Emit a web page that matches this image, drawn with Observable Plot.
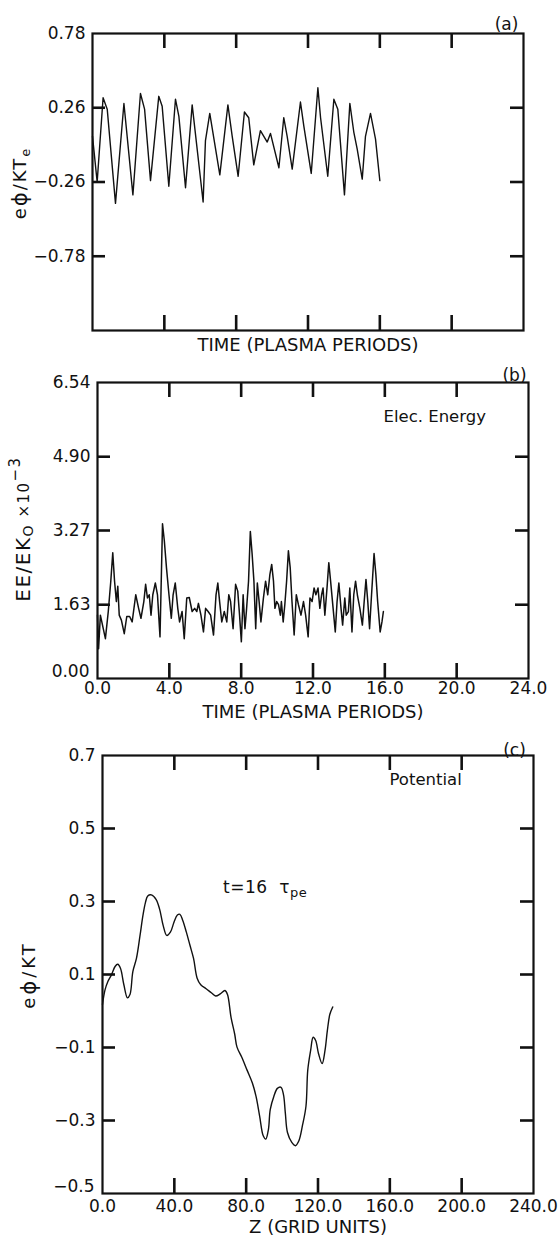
<!DOCTYPE html>
<html><head><meta charset="utf-8">
<script src="https://cdn.jsdelivr.net/npm/d3@7"></script>
<script src="https://cdn.jsdelivr.net/npm/@observablehq/plot@0.6"></script>
<style>
body{margin:0;background:#fff;}
#root{width:560px;height:1246px;overflow:hidden;background:#fff;}
#root svg{display:block;overflow:visible;}
</style></head><body><div id="root"></div>
<script>
// ---------- data ----------
const timeTicks = [0, 4, 8, 12, 16, 20, 24];
const timeTickLabels = ["0.0", "4.0", "8.0", "12.0", "16.0", "20.0", "24.0"];
const timeInnerTicks = [4, 8, 12, 16, 20];

// (a) potential vs time
const phiTicks = [0.78, 0.26, -0.26, -0.78];
const phiTickLabels = ["0.78", "0.26", "−0.26", "−0.78"];
const phiInnerTicks = [0.26, -0.26, -0.78];
const phiDomain = [-1.30, 0.78];
const phiT = [0.00,0.26,0.59,0.82,1.28,1.75,2.25,2.67,2.90,3.23,3.69,3.88,4.25,4.62,4.81,5.18,5.55,6.16,6.29,6.53,7.09,7.54,7.78,8.11,8.46,8.70,8.98,9.35,9.73,9.91,10.38,10.65,10.84,11.12,11.58,11.77,12.18,12.55,12.70,13.10,13.44,13.66,14.03,14.33,14.55,14.74,15.02,15.20,15.48,15.76,16.00];
const phiV = [0.06,-0.26,0.33,0.25,-0.41,0.29,-0.35,0.36,0.25,-0.25,0.34,0.27,-0.29,0.32,0.20,-0.30,0.28,-0.40,0.03,0.22,-0.21,0.28,0.06,-0.22,0.23,0.19,-0.14,0.10,0.02,0.08,-0.16,0.19,0.06,-0.17,0.30,0.13,-0.20,0.40,0.19,-0.22,0.32,0.25,-0.35,0.29,0.09,-0.03,-0.24,0.06,0.22,0.04,-0.25];

// (b) electric energy vs time
const eeTicks = [6.54, 4.90, 3.27, 1.63, 0];
const eeTickLabels = ["6.54", "4.90", "3.27", "1.63", "0.00"];
const eeInnerTicks = [1.63, 3.27, 4.90];
const eeDomain = [0, 6.54];
const eeT = [0.00,0.06,0.16,0.24,0.44,0.60,0.74,0.85,0.95,1.05,1.13,1.21,1.33,1.49,1.63,1.79,1.93,2.13,2.29,2.42,2.58,2.68,2.78,2.88,2.98,3.08,3.22,3.34,3.48,3.62,3.72,3.84,3.98,4.11,4.21,4.33,4.47,4.57,4.71,4.83,4.97,5.11,5.27,5.41,5.53,5.62,5.76,5.90,6.02,6.16,6.30,6.46,6.60,6.70,6.80,6.92,7.06,7.20,7.31,7.41,7.55,7.69,7.81,7.91,8.01,8.11,8.21,8.29,8.41,8.51,8.61,8.71,8.81,8.90,9.00,9.10,9.24,9.36,9.48,9.60,9.70,9.80,9.88,9.98,10.08,10.18,10.24,10.34,10.43,10.53,10.63,10.73,10.83,10.95,11.07,11.19,11.33,11.47,11.59,11.73,11.83,11.95,12.06,12.16,12.28,12.38,12.48,12.56,12.66,12.78,12.88,12.98,13.12,13.24,13.34,13.44,13.56,13.65,13.77,13.85,13.97,14.05,14.17,14.27,14.37,14.47,14.61,14.75,14.85,14.95,15.05,15.15,15.26,15.40,15.50,15.60,15.74,15.84,15.92];
const eeV = [1.40,0.66,1.40,1.25,0.88,1.48,2.15,2.78,2.15,1.70,2.04,1.40,1.29,0.99,1.37,1.37,1.25,1.85,1.55,1.33,1.70,2.08,1.78,1.85,1.40,1.85,2.11,1.85,0.92,3.42,3.05,2.45,1.85,1.33,1.85,2.11,1.55,1.25,1.48,0.88,1.78,1.79,1.48,1.55,1.48,1.66,1.40,1.03,1.55,1.48,1.40,0.96,1.85,2.11,1.70,1.25,1.48,1.25,1.85,1.70,1.10,2.08,1.93,1.40,0.81,1.85,1.10,1.48,2.15,3.25,2.75,2.15,1.10,2.11,1.70,1.25,1.78,2.15,1.85,2.30,2.52,2.15,1.55,1.70,1.63,1.40,1.70,1.25,1.63,2.15,2.82,2.45,1.70,0.96,1.85,1.63,1.40,1.70,1.40,0.92,1.78,1.70,2.00,1.85,2.00,1.55,1.85,2.00,1.40,2.00,2.56,2.15,1.55,1.03,1.70,2.11,1.55,1.18,1.78,1.40,1.48,2.00,1.03,1.85,2.15,1.85,1.55,1.18,1.70,2.19,1.70,1.10,1.85,2.76,2.30,1.70,1.03,1.25,1.48];

// (c) potential vs z
const zTicks = [0, 40, 80, 120, 160, 200, 240];
const zTickLabels = ["0.0", "40.0", "80.0", "120.0", "160.0", "200.0", "240.0"];
const zInnerTicks = [40, 80, 120, 160, 200];
const potTicks = [0.7, 0.5, 0.3, 0.1, -0.1, -0.3, -0.5];
const potTickLabels = ["0.7", "0.5", "0.3", "0.1", "−0.1", "−0.3", "−0.5"];
const potInnerTicks = [0.5, 0.3, 0.1, -0.1, -0.3];
const potDomain = [-0.5, 0.7];
const potZ = [0,1.4,3.0,5.0,7.0,8.5,10.0,11.9,13.9,15.3,16.9,18.9,20.9,22.5,23.9,25.2,27.2,29.8,31.8,33.8,35.8,37.8,39.8,41.7,43.1,44.7,46.7,48.7,50.7,52.7,54.7,57.7,60.6,63.0,65.6,68.2,69.6,71.6,73.6,74.9,77.5,80.5,83.5,85.5,87.5,89.5,90.9,92.4,93.4,95.4,97.4,99.4,100.8,101.8,103.0,105.4,107.4,109.3,111.3,113.3,114.3,115.9,117.3,118.7,120.3,122.3,123.9,125.2,126.6,128.2];
const potV = [0.018,0.058,0.081,0.099,0.122,0.128,0.117,0.072,0.036,0.045,0.108,0.144,0.207,0.261,0.297,0.315,0.318,0.306,0.279,0.234,0.207,0.216,0.243,0.263,0.265,0.248,0.216,0.180,0.144,0.090,0.072,0.061,0.050,0.041,0.047,0.056,0.045,-0.018,-0.063,-0.099,-0.126,-0.162,-0.198,-0.234,-0.288,-0.342,-0.351,-0.324,-0.270,-0.234,-0.212,-0.209,-0.230,-0.279,-0.333,-0.360,-0.369,-0.356,-0.315,-0.261,-0.162,-0.108,-0.072,-0.081,-0.117,-0.144,-0.108,-0.054,-0.009,0.011];

// ---------- drawing ----------
const ink = "#111";
const FONT = "DejaVu Sans, Liberation Sans, sans-serif";
const innerW = 431;
const TICK_W = 2.6, TICK_Y = 13, TICK_X = 15;

function panel(o) {
  const data = o.xs.map((x, i) => ({x, y: o.ys[i]}));
  const L = o.ml, R = o.ml + innerW, T = o.mt, B = o.height - o.mb;
  const innerH = B - T;
  const lowIdx = o.yTicks.indexOf(o.yDomain[0]);
  const upper = o.yTicks.filter((d, i) => i !== lowIdx);
  const upperLabels = o.yLabels.filter((d, i) => i !== lowIdx);
  const marks = [
    // inward ticks on all four sides, drawn as short rules through the plot's scales
    Plot.ruleY(o.yInner, {y: d => d, insetRight: innerW - TICK_Y, stroke: ink, strokeWidth: TICK_W}),
    Plot.ruleY(o.yInner, {y: d => d, insetLeft: innerW - TICK_Y, stroke: ink, strokeWidth: TICK_W}),
    Plot.ruleX(o.xInner, {x: d => d, insetBottom: innerH - TICK_X, stroke: ink, strokeWidth: TICK_W}),
    Plot.ruleX(o.xInner, {x: d => d, insetTop: innerH - TICK_X, stroke: ink, strokeWidth: TICK_W}),
    Plot.frame({stroke: ink, strokeWidth: 2.2}),
    Plot.line(data, {x: "x", y: "y", stroke: ink, strokeWidth: o.lw || 1.4, strokeLinejoin: "round", curve: o.curve || "linear"}),
    Plot.text(upper, {y: d => d, frameAnchor: "left", text: (d, i) => upperLabels[i], textAnchor: "end", dx: -7, fontSize: 17, fill: ink}),
    Plot.text([o.tag], {text: d => d, frameAnchor: "top-right", dx: o.tagDx, dy: o.tagDy, fontSize: 17, fill: ink, textAnchor: "middle"}),
    Plot.text([o.title], {text: d => d, frameAnchor: "bottom", dy: o.titleDy, fontSize: 18, fill: ink, letterSpacing: "1px"})
  ];
  if (lowIdx >= 0) {
    marks.push(Plot.text([o.yDomain[0]], {y: d => d, frameAnchor: "left", text: () => o.yLabels[lowIdx], textAnchor: "end", dx: -8, dy: -7, fontSize: 17, fill: ink}));
  }
  if (o.xLabels) {
    marks.push(Plot.text(o.xTicks, {x: d => d, frameAnchor: "bottom", text: (d, i) => o.xLabels[i], dy: o.xLabDy, fontSize: 17, fill: ink}));
  }
  if (o.note) {
    marks.push(Plot.text([o.note], {text: d => d, frameAnchor: "top-right", textAnchor: "start", dx: o.noteDx, dy: o.noteDy, fontSize: 16.5, fill: ink}));
  }
  return Plot.plot({
    width: 560, height: o.height,
    marginTop: o.mt, marginBottom: o.mb, marginLeft: o.ml, marginRight: 560 - o.ml - innerW,
    x: {domain: o.xDomain, axis: null},
    y: {domain: o.yDomain, axis: null},
    style: {background: "#fff", fontFamily: FONT, color: ink, overflow: "visible"},
    marks
  });
}

function rich(svg, x, y, size, parts, rotate = -90, spacing = 1) {
  const t = d3.select(svg).append("text")
    .attr("transform", `translate(${x},${y}) rotate(${rotate})`)
    .attr("text-anchor", rotate ? "middle" : "start")
    .attr("dominant-baseline", "middle")
    .attr("fill", ink)
    .attr("font-family", FONT)
    .attr("font-size", size)
    .attr("letter-spacing", spacing + "px");
  let cur = 0;
  for (const p of parts) {
    const shift = p.shift || 0;
    const s = t.append("tspan").text(p.t).attr("dy", shift - cur);
    if (p.size) s.attr("font-size", p.size);
    cur = shift;
  }
  return t;
}

const root = document.getElementById("root");

const svgA = panel({
  height: 358, mt: 33, mb: 28, ml: 92,
  xDomain: [0, 24], yDomain: phiDomain,
  xs: phiT, ys: phiV,
  xTicks: timeTicks, xInner: timeInnerTicks,
  yTicks: phiTicks, yLabels: phiTickLabels, yInner: phiInnerTicks,
  tag: "(a)", tagDx: -17, tagDy: -16,
  title: "TIME (PLASMA PERIODS)", titleDy: 20
});
rich(svgA, 21, 183, 18, [{t: "e"}, {t: "ϕ", size: 21}, {t: "/KT"}, {t: "e", size: 13, shift: 5}], -90, 2);
root.append(svgA);

const svgB = panel({
  height: 378, mt: 24, mb: 58, ml: 97, lw: 1.5,
  xDomain: [0, 24], yDomain: eeDomain,
  xs: eeT, ys: eeV,
  xTicks: timeTicks, xInner: timeInnerTicks, xLabels: timeTickLabels, xLabDy: 15,
  yTicks: eeTicks, yLabels: eeTickLabels, yInner: eeInnerTicks,
  tag: "(b)", tagDx: -14, tagDy: -14,
  title: "TIME (PLASMA PERIODS)", titleDy: 39,
  note: "Elec. Energy", noteDx: -145, noteDy: 28
});
rich(svgB, 24, 171, 20, [{t: "EE/EK"}, {t: "O", size: 14, shift: 5}, {t: " ×10", size: 15, shift: 0}, {t: "−3", size: 15, shift: -9}], -90, 1.5);
root.append(svgB);

const svgC = panel({
  height: 510, mt: 19, mb: 53, ml: 102, curve: "catmull-rom",
  xDomain: [0, 240], yDomain: potDomain,
  xs: potZ, ys: potV,
  xTicks: zTicks, xInner: zInnerTicks, xLabels: zTickLabels, xLabDy: 18,
  yTicks: potTicks, yLabels: potTickLabels, yInner: potInnerTicks,
  tag: "(c)", tagDx: -19, tagDy: -12,
  title: "Z (GRID UNITS)", titleDy: 39,
  note: "Potential", noteDx: -144, noteDy: 18
});
rich(svgC, 30, 239, 18, [{t: "e"}, {t: "ϕ", size: 21}, {t: "/KT"}], -90, 3);
rich(svgC, 223, 152, 17, [{t: "t=16  τ"}, {t: "pe", size: 13, shift: 5}], 0, 0.5);
root.append(svgC);
</script></body></html>
